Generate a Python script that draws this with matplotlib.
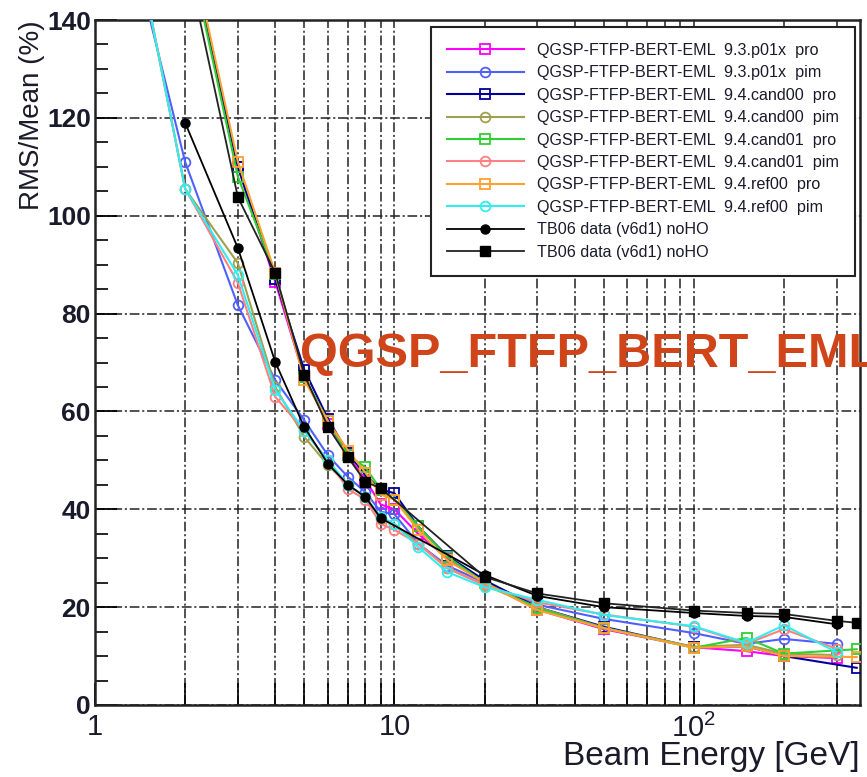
import numpy as np
import matplotlib
matplotlib.use("Agg")
import matplotlib.pyplot as plt
from matplotlib.ticker import FixedLocator, FuncFormatter, MultipleLocator

plt.rcParams["lines.scale_dashes"] = False
plt.rcParams["mathtext.fontset"] = "custom"
plt.rcParams["mathtext.rm"] = "Liberation Sans"

nan = np.nan

# Beam energies (GeV)
energy_mc = [1.5, 2, 3, 4, 5, 6, 7, 8, 9, 10, 12, 15, 20, 30, 50, 100, 150, 200, 300, 350]
energy_data_circ = [2, 3, 4, 5, 6, 7, 8, 9, 20, 30, 50, 100, 150, 200, 300]
energy_data_sq = [2, 3, 4, 5, 6, 7, 8, 9, 20, 30, 50, 100, 150, 200, 300, 350]

# RMS/Mean (%) for each simulation
p01x_pro = [nan, 158, 110, 86.5, 67, 57.5, 51, 46, 41, 40, 35, 30, 25, 19.5, 15.5, 11.8, 11.0, 10.0, 9.6, nan]
p01x_pim = [142, 111, 81.7, 66.4, 58.2, 51, 46.6, 43.5, 39.5, 39, 33, 28.5, 25, 20.5, 17.6, 14.7, 12.5, 13.5, 12.5, nan]
cand00_pro = [nan, 158, 110, 87, 68.5, 58.5, 51.5, 47, 44, 43.3, 36.5, 30.5, 25.5, 20, 16, 11.8, 12.0, 10.0, nan, 7.6]
cand00_pim = [144, 105.5, 90.3, 65, 54.8, 49, 45, 42.5, 38, 37, 33, 28, 24.5, 20, 15.8, 11.9, 12.3, 10.5, 10.2, nan]
cand01_pro = [nan, 158, 108, 88, 67, 58, 51, 48.6, 44, 42, 36.5, 30.3, 25, 19.8, 15.7, 11.7, 13.7, 10.5, nan, 11.4]
cand01_pim = [144, 105.5, 86.3, 63, 56, 50, 44.1, 42, 37, 35.8, 33, 28, 24.5, 21, 18.5, 16, 12.5, 15.5, 11.5, nan]
ref00_pro = [nan, 160, 111, 88.3, 66.4, 58, 52, 47.5, 43, 42, 35.8, 29.6, 25, 19.4, 15.7, 11.7, 12.0, 10.0, nan, 9.8]
ref00_pim = [144, 105.5, 87.9, 64.4, 56, 50, 45, 42.5, 38.5, 37, 32.3, 27.2, 24.1, 21.5, 18.4, 16.1, 12.7, 16.3, 10.8, nan]

# Test-beam measurements
tb06_circ = [119, 93.4, 70.1, 56.8, 49.3, 45, 42.5, 38.2, 26.6, 22.3, 20.0, 18.8, 18.2, 18.0, 16.5]
tb06_sq = [154, 103.8, 88.3, 67.5, 56.8, 50.6, 45.6, 44.3, 26.2, 22.8, 20.8, 19.3, 18.8, 18.6, 17.2, 16.8]

labels = [
    "QGSP-FTFP-BERT-EML  9.3.p01x  pro",
    "QGSP-FTFP-BERT-EML  9.3.p01x  pim",
    "QGSP-FTFP-BERT-EML  9.4.cand00  pro",
    "QGSP-FTFP-BERT-EML  9.4.cand00  pim",
    "QGSP-FTFP-BERT-EML  9.4.cand01  pro",
    "QGSP-FTFP-BERT-EML  9.4.cand01  pim",
    "QGSP-FTFP-BERT-EML  9.4.ref00  pro",
    "QGSP-FTFP-BERT-EML  9.4.ref00  pim",
    "TB06 data (v6d1) noHO",
    "TB06 data (v6d1) noHO",
]

mc_series = [p01x_pro, p01x_pim, cand00_pro, cand00_pim,
             cand01_pro, cand01_pim, ref00_pro, ref00_pim]
mc_colors = ["#ff00ff", "#5060ff", "#000099", "#a0a050",
             "#30d030", "#ff8080", "#ffa030", "#30eef0"]
mc_markers = ["s", "o", "s", "o", "s", "o", "s", "o"]

text_col = "#1a1a2a"

fig = plt.figure(figsize=(8.67, 7.77), dpi=100)
ax = fig.add_axes([95 / 867, 1 - 705 / 777, 765 / 867, 685 / 777])

handles = []
for vals, col, mk in zip(mc_series, mc_colors, mc_markers):
    x = np.array(energy_mc, dtype=float)
    y = np.array(vals, dtype=float)
    ok = ~np.isnan(y)
    h, = ax.plot(x[ok], y[ok], color=col, lw=1.5, marker=mk, ms=7,
                 mfc="none", mec=col, mew=1.3, zorder=3)
    handles.append(h)

h, = ax.plot(energy_data_circ, tb06_circ, color="black", lw=1.3, marker="o",
             ms=6.5, mfc="black", mec="black", zorder=4)
handles.append(h)
h, = ax.plot(energy_data_sq, tb06_sq, color="#222222", lw=1.3, marker="s",
             ms=6.5, mfc="black", mec="black", zorder=4)
handles.append(h)

ax.set_xscale("log")
ax.set_xlim(1, 359)
ax.set_ylim(0, 140)

# ticks
ax.yaxis.set_major_locator(MultipleLocator(20))
ax.yaxis.set_minor_locator(MultipleLocator(5))
x_major = [1, 10, 100]
x_minor = [2, 3, 4, 5, 6, 7, 8, 9, 20, 30, 40, 50, 60, 70, 80, 90, 200, 300]
ax.xaxis.set_major_locator(FixedLocator(x_major))
ax.xaxis.set_minor_locator(FixedLocator(x_minor))
xlab = {1: "1", 10: "10", 100: r"$\mathregular{10^2}$"}
ax.xaxis.set_major_formatter(FuncFormatter(lambda v, p: xlab.get(int(round(v)), "")))
ax.xaxis.set_minor_formatter(FuncFormatter(lambda v, p: ""))

ax.tick_params(axis="both", which="both", direction="in", color="black")
ax.tick_params(axis="y", which="major", length=16, width=1.3, pad=3)
ax.tick_params(axis="y", which="minor", length=9, width=1.2)
ax.tick_params(axis="x", which="major", length=16, width=1.3, pad=6)
ax.tick_params(axis="x", which="minor", length=16, width=1.2)

for lab in ax.get_yticklabels():
    lab.set_fontfamily(["Liberation Sans", "DejaVu Sans"])
    lab.set_fontweight("bold")
    lab.set_fontsize(19)
    lab.set_color(text_col)
for lab in ax.get_xticklabels():
    lab.set_fontfamily(["Liberation Sans", "DejaVu Sans"])
    lab.set_fontsize(21)
    lab.set_color(text_col)

for sp in ax.spines.values():
    sp.set_linewidth(1.8)
    sp.set_color("#222222")

# dash-dot grid
dashdot = (0, (7, 2, 1.5, 2))
ax.grid(True, which="major", axis="y", color="#222222", lw=1.1, linestyle=dashdot)
ax.grid(True, which="both", axis="x", color="#222222", lw=1.1, linestyle=dashdot)
ax.set_axisbelow(True)

ax.set_ylabel("RMS/Mean (%)", fontsize=20, family=["Liberation Sans", "DejaVu Sans"],
              color=text_col, loc="top")
ax.yaxis.set_label_coords(-0.066, 1.0)
ax.set_xlabel("Beam Energy [GeV]", fontsize=24, family=["Liberation Sans", "DejaVu Sans"],
              color=text_col, loc="right")
ax.xaxis.set_label_coords(1.0, -0.053)

leg = ax.legend(handles, labels, loc="upper right", bbox_to_anchor=(0.9935, 0.99),
                borderaxespad=0.0, handlelength=4.8, handletextpad=0.8, labelspacing=0.46,
                borderpad=1.0, fancybox=False, framealpha=1, edgecolor="#222222",
                prop={"family": ["Liberation Sans", "DejaVu Sans"], "size": 11.6})
leg.get_frame().set_linewidth(1.5)
leg.set_zorder(10)
for t in leg.get_texts():
    t.set_color(text_col)

fig.text(300 / 867, 1 - 367 / 777, "QGSP_FTFP_BERT_EML", fontsize=35, fontweight="bold",
         family=["Liberation Sans", "DejaVu Sans"], color="#d0441a", ha="left", va="baseline")

fig.savefig("out.png", dpi=100)
